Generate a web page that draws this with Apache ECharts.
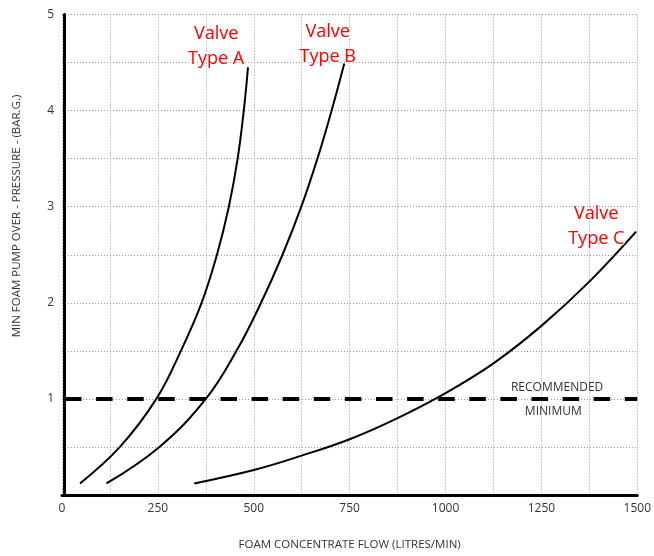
<!DOCTYPE html>
<html>
<head>
<meta charset="utf-8">
<script src="https://cdn.jsdelivr.net/npm/echarts@6/dist/echarts.min.js"></script>
<style>html,body{margin:0;padding:0;background:#fff;}#c{width:654px;height:556px;}</style>
</head>
<body>
<div id="c"></div>
<script>
// Data: [flow (L/min), pressure (bar g)]
const valveA = [[47,0.12],[151,0.5],[246,1.0],[310,1.5],[364,2.0],[404,2.5],[435,3.0],[458,3.5],[474,4.0],[485,4.45]];
const valveB = [[116,0.12],[254,0.5],[375,1.0],[455,1.5],[519,2.0],[575,2.5],[624,3.0],[666,3.5],[703,4.0],[736,4.49]];
const valveC = [[345,0.12],[500,0.26],[625,0.41],[750,0.58],[875,0.80],[1000,1.06],[1125,1.37],[1250,1.76],[1375,2.22],[1497,2.74]];
const recommendedMin = [[0,1],[1500,1]];
const seriesNames = ['Valve\nType A','Valve\nType B','Valve\nType C'];
const labelCoords = [[402,4.67],[693,4.69],[1393,2.80]];
const minTexts = ['RECOMMENDED','MINIMUM'];
const minTextCoords = [[1291,1.122],[1281,0.863]];
const xTitle = 'FOAM CONCENTRATE FLOW (LITRES/MIN)';
const yTitle = 'MIN FOAM PUMP OVER - PRESSURE - (BAR.G.)';

const FONT = 'Open Sans';
const chart = echarts.init(document.getElementById('c'));

function curve(data, idx){
  return {
    type:'line', data:data, smooth:0.4, symbol:'none',
    lineStyle:{color:'#000', width:2}, z:3,
    markPoint:{
      symbol:'circle', symbolSize:0, silent:true,
      label:{show:true, position:'inside', formatter:seriesNames[idx], color:'#ff0000',
        fontFamily:FONT, fontSize:18, lineHeight:25, align:'center',
        textBorderColor:'#fff', textBorderWidth:2},
      data:[{coord:labelCoords[idx]}]
    }
  };
}

chart.setOption({
  animation:false,
  grid:{left:62, right:13, top:14.5, bottom:59},
  xAxis:{
    type:'value', min:0, max:1500, interval:125,
    axisLine:{show:true, lineStyle:{color:'#000', width:3}},
    axisTick:{show:false},
    axisLabel:{formatter:v => (v % 250 === 0 ? String(v) : ''), color:'#333', fontFamily:FONT, fontSize:12, margin:8, showMaxLabel:true, showMinLabel:true},
    splitLine:{show:true, lineStyle:{color:'#999', type:[1,2], width:1}},
    name:xTitle, nameLocation:'middle', nameGap:44,
    nameTextStyle:{color:'#333', fontFamily:FONT, fontSize:11.5}
  },
  yAxis:{
    type:'value', min:0, max:5, interval:0.5, offset:-2,
    axisLine:{show:true, lineStyle:{color:'#000', width:3}},
    axisTick:{show:false},
    axisLabel:{formatter:v => (v % 1 === 0 && v !== 0 ? String(v) : ''), color:'#333', fontFamily:FONT, fontSize:12, margin:10},
    splitLine:{show:true, lineStyle:{color:'#999', type:[1,2], width:1}}
  },
  graphic:[{
    type:'text', x:17, y:216, rotation:Math.PI/2,
    style:{text:yTitle, fill:'#333', font:'11.5px "Open Sans"', align:'center', verticalAlign:'middle'}
  }],
  series:[
    curve(valveA,0), curve(valveB,1), curve(valveC,2),
    {
      type:'line', data:recommendedMin, symbol:'none', z:2,
      lineStyle:{color:'#000', width:4, type:[16.5,14.6], dashOffset:28.1},
      markPoint:{
        symbol:'circle', symbolSize:0, silent:true,
        label:{show:true, position:'inside', color:'#333', fontFamily:FONT, fontSize:12,
          formatter:p => p.name},
        data:[{name:minTexts[0], coord:minTextCoords[0]},{name:minTexts[1], coord:minTextCoords[1]}]
      }
    }
  ]
});
</script>
</body>
</html>
